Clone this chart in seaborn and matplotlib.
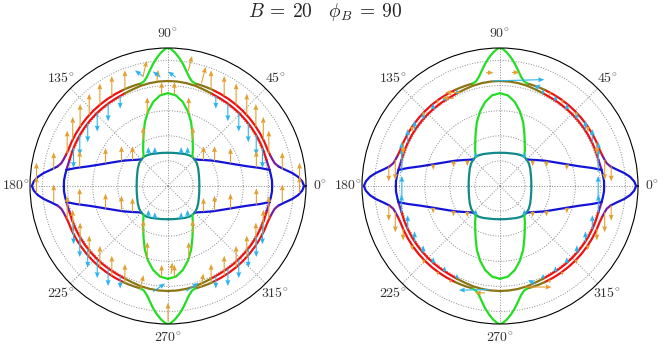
import numpy as np
import matplotlib
matplotlib.use('Agg')
import matplotlib.pyplot as plt
import seaborn as sns

sns.set_theme(style='white')
plt.rcParams['font.family'] = ['DejaVu Serif']
plt.rcParams['mathtext.fontset'] = 'cm'

OUTER_T = [0, 2, 4, 6, 8, 10, 12, 14, 17, 20, 25, 30, 35, 40, 45, 50, 55, 60, 65, 68, 71, 73,
           75, 77, 79, 81, 83, 85, 87, 89, 90]
OUTER_R = [10.85, 10.7, 10.4, 9.95, 9.4, 8.95, 8.7, 8.6, 8.5, 8.45, 8.45, 8.45, 8.45, 8.45, 8.45,
           8.45, 8.45, 8.45, 8.45, 8.45, 8.45, 8.45, 8.45, 8.55, 8.85, 9.3, 9.8, 10.25, 10.65, 10.95, 11.0]
OUTER_BREAKS = [0, 10, 17, 65, 75, 90]
OUTER_COLS = ['#1414d8', '#7a1aa0', '#ee1111', '#8a7414', '#22dd22']

INNER_T = [0, 3, 6, 9, 12, 15, 20, 25, 30, 35, 40, 45, 50, 55, 60, 65, 70, 75, 80, 85, 90]
INNER_R = [8.3, 8.3, 8.25, 8.2, 8.15, 8.12, 8.12, 8.12, 8.12, 8.12, 8.12, 8.12, 8.12, 8.12, 8.12,
           8.15, 8.2, 8.28, 8.33, 8.36, 8.37]
INNER_BREAKS = [0, 9, 15, 65, 90]
INNER_COLS = ['#1414d8', '#7a1aa0', '#ee1111', '#8a7414']

FLAT_T = [9, 11, 14, 18, 22, 26, 30, 35, 40, 45]
FLAT_R = [8.2, 7.5, 6.5, 5.6, 4.95, 4.45, 4.05, 3.6, 3.25, 3.0]

TEAL_T = [0, 10, 20, 30, 38, 45, 50, 55, 62, 70, 80, 90]
TEAL_R = [2.5, 2.53, 2.62, 2.78, 2.92, 3.0, 3.02, 2.98, 2.88, 2.76, 2.68, 2.65]

GIN_T = [50, 55, 60, 65, 70, 75, 80, 85, 90]
GIN_R = [3.02, 3.45, 3.95, 4.6, 5.4, 6.15, 6.8, 7.25, 7.4]

# ---- arrows, left panel (mirrored positions, same direction)
LO_CIRC_T = [18, 26, 34, 42, 50, 58, 66]
LO_CIRC_R = [8.45, 8.45, 8.45, 8.45, 8.45, 8.45, 8.45]
LO_CIRC_L = [1.8, 1.8, 1.8, 1.7, 1.7, 1.6, 1.5]
LB_CIRC_T = [22, 30, 38, 46, 54, 62]
LB_CIRC_R = [8.12, 8.12, 8.12, 8.12, 8.12, 8.12]
LB_CIRC_L = [1.6, 1.6, 1.5, 1.5, 1.4, 1.0]
LO_FLAT_T = [12, 20, 28, 36]
LO_FLAT_R = [7.2, 5.3, 4.2, 3.5]
LO_FLAT_L = [1.3, 1.2, 1.2, 1.1]
LO_GIN_T = [62, 74, 86]
LO_GIN_R = [4.2, 6.0, 7.3]
LO_GIN_L = [1.0, 1.3, 1.0]
LO_TIP_T = [3, 8]
LO_TIP_R = [10.5, 9.2]
LO_TIP_L = [1.3, 1.4]
LB_TEAL_T = [58, 68]
LB_TEAL_R = [2.95, 2.8]
LB_TEAL_L = [0.6, 0.5]
# single arrows near top / bottom (theta, r, u, v)
L_SPECIAL_O = [(72, 8.6, 0.35, 1.3), (80, 9.3, 0.3, 1.2), (103, 8.9, 0.3, 1.3), (96, 8.4, 0.1, 0.9),
               (270, 10.8, 0.0, 1.5), (272, 7.0, 0.1, 0.9), (255, 8.5, 0.25, 1.1), (288, 8.5, 0.2, 1.1)]
L_SPECIAL_B = [(86, 8.7, -0.6, 0.45), (94, 8.7, -0.6, 0.45), (103, 9.0, -0.6, 0.45),
               (262, 8.5, 0.95, 0.65), (280, 8.5, 0.95, 0.65)]

# ---- arrows, right panel
RB_CIRC_T = [8, 15, 25, 33, 41, 49, 57, 65]
RB_CIRC_R = [7.9, 8.12, 8.12, 8.12, 8.12, 8.12, 8.12, 8.12]
RB_CIRC_L = [1.9, 1.4, 1.1, 0.8, 0.6, 0.45, 0.4, 0.35]
RO_CIRC_T = [10, 14, 24, 34, 44, 54, 62]
RO_CIRC_R = [9.0, 8.6, 8.45, 8.45, 8.45, 8.45, 8.45]
RO_CIRC_L = [1.2, 1.6, 0.9, 0.4, 0.35, 0.3, 0.3]
RO_FLAT_T = [18, 28, 38]
RO_FLAT_R = [5.6, 4.2, 3.3]
RO_FLAT_L = [0.45, 0.45, 0.45]
RB_TEAL_T = [50]
RB_TEAL_R = [3.0]
RB_TEAL_L = [0.4]
R_SPECIAL_O = [(113, 8.1, -1.2, 0.0), (118, 7.9, -0.9, 0.05), (97, 9.1, 0.6, 0.0), (84, 9.1, 0.6, 0.0),
               (284, 8.3, 2.1, 0.0), (262, 8.6, -0.8, 0.0)]
R_SPECIAL_B = [(94, 8.4, 4.1, 0.1), (70, 8.3, 0.4, 0.3), (264, 8.3, -2.4, -0.05), (290, 8.3, -0.6, 0.3)]

TICK_ANGLES = [0, 45, 90, 135, 180, 225, 270, 315]
TICK_LABELS = [r'$0^{\!\circ}$', r'$45^{\!\circ}$', r'$90^{\!\circ}$', r'$135^{\!\circ}$',
               r'$180^{\!\circ}$', r'$225^{\!\circ}$', r'$270^{\!\circ}$', r'$315^{\!\circ}$']
RINGS = [2, 4, 6, 8, 10]
RMAX = 11

ORANGE = '#e3a032'
SKY = '#2ab4ee'
SCALE = 1 / 0.126   # data units per inch (rmax 11 over 1.38 in)


def mirror(t, r):
    t = np.asarray(t, float)
    r = np.asarray(r, float)
    return [(t, r), (180 - t, r), (180 + t, r), (360 - t, r)]


def draw_piece(ax, t, r, c, lw=1.6):
    for tt, rr in mirror(t, r):
        sns.lineplot(x=np.radians(tt), y=rr, ax=ax, color=c, lw=lw, sort=False, estimator=None)


def draw_branch(ax, t, r, breaks, cols):
    t = np.asarray(t, float)
    r = np.asarray(r, float)
    for lo, hi, c in zip(breaks[:-1], breaks[1:], cols):
        m = (t >= lo) & (t <= hi)
        draw_piece(ax, t[m], r[m], c)


def quiv(ax, t, r, u, v, color):
    ax.quiver(np.radians(t), r, u, v, color=color, angles='uv', scale_units='inches', scale=SCALE,
              units='dots', width=1.1, headwidth=4.5, headlength=5.5, headaxislength=5, zorder=5)


def mirrored_arrows(ax, t, r, L, sign, color):
    t = np.asarray(t, float)
    tt = np.concatenate([t, 180 - t, 180 + t, 360 - t])
    rr = np.tile(r, 4)
    vv = np.tile(np.asarray(L, float) * sign, 4)
    quiv(ax, tt, rr, np.zeros_like(vv), vv, color)


def special(ax, items, color):
    a = np.array(items, float)
    quiv(ax, a[:, 0], a[:, 1], a[:, 2], a[:, 3], color)


def base(ax):
    draw_branch(ax, OUTER_T, OUTER_R, OUTER_BREAKS, OUTER_COLS)
    draw_branch(ax, INNER_T, INNER_R, INNER_BREAKS, INNER_COLS)
    draw_piece(ax, FLAT_T, FLAT_R, '#1414d8')
    draw_piece(ax, TEAL_T, TEAL_R, '#138a8a')
    draw_piece(ax, GIN_T, GIN_R, '#22dd22')
    ax.set_rlim(0, RMAX)
    ax.set_yticks(RINGS)
    ax.set_yticklabels([])
    ax.set_thetagrids(TICK_ANGLES, TICK_LABELS, fontsize=10, color='#333333')
    ax.tick_params(axis='x', pad=-3)
    ax.grid(True, ls=':', lw=0.7, color='#888888')
    ax.spines['polar'].set_color('black')
    ax.spines['polar'].set_linewidth(0.8)
    ax.set_xlabel('')
    ax.set_ylabel('')


fig = plt.figure(figsize=(6.64, 3.49), dpi=100)
axL = fig.add_axes([30 / 664, 25 / 349, 276 / 664, 276 / 349], projection='polar')
axR = fig.add_axes([362 / 664, 25 / 349, 276 / 664, 276 / 349], projection='polar')

base(axL)
mirrored_arrows(axL, LO_CIRC_T, LO_CIRC_R, LO_CIRC_L, 1, ORANGE)
mirrored_arrows(axL, LB_CIRC_T, LB_CIRC_R, LB_CIRC_L, -1, SKY)
mirrored_arrows(axL, LO_FLAT_T, LO_FLAT_R, LO_FLAT_L, 1, ORANGE)
mirrored_arrows(axL, LO_GIN_T, LO_GIN_R, LO_GIN_L, 1, ORANGE)
mirrored_arrows(axL, LO_TIP_T, LO_TIP_R, LO_TIP_L, 1, ORANGE)
mirrored_arrows(axL, LB_TEAL_T, LB_TEAL_R, LB_TEAL_L, 1, SKY)
special(axL, L_SPECIAL_O, ORANGE)
special(axL, L_SPECIAL_B, SKY)

base(axR)
mirrored_arrows(axR, RB_CIRC_T, RB_CIRC_R, RB_CIRC_L, 1, SKY)
mirrored_arrows(axR, RO_CIRC_T, RO_CIRC_R, RO_CIRC_L, -1, ORANGE)
mirrored_arrows(axR, RO_FLAT_T, RO_FLAT_R, RO_FLAT_L, -1, ORANGE)
mirrored_arrows(axR, RB_TEAL_T, RB_TEAL_R, RB_TEAL_L, 1, SKY)
special(axR, R_SPECIAL_O, ORANGE)
special(axR, R_SPECIAL_B, SKY)

for ax in (axL, axR):
    ax.set_rlim(0, RMAX)

fig.text(0.49, 1 - 12 / 349, r'$B\:=\:20 \quad \phi_B\:=\:90$', ha='center', va='center', fontsize=14)

fig.savefig('out.png', dpi=100)
